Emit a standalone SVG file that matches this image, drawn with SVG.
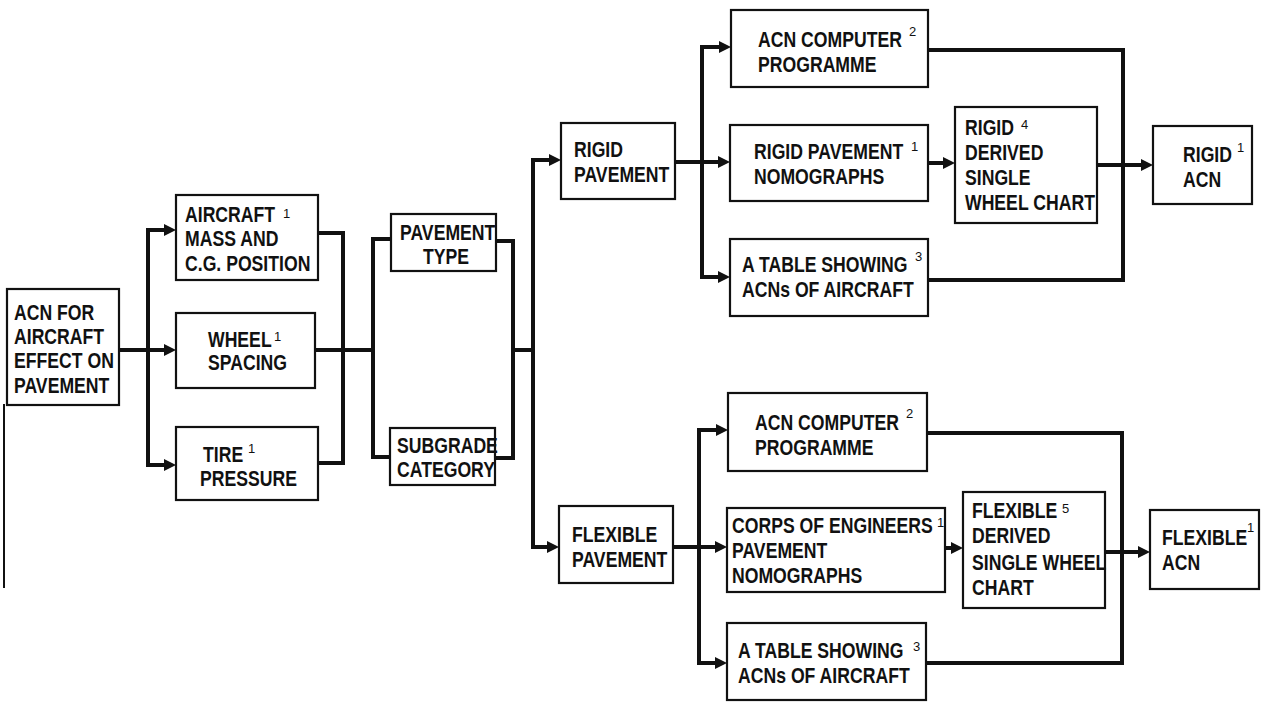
<svg xmlns="http://www.w3.org/2000/svg" width="1266" height="702" viewBox="0 0 1266 702">
<defs>
<style>
.box{fill:#fff;stroke:#111;stroke-width:2.2}
.t{font-family:"Liberation Sans",Arial,sans-serif;font-weight:bold;font-size:21.5px;fill:#111}
.s{font-family:"Liberation Sans",Arial,sans-serif;font-weight:normal;font-size:13px;fill:#111}
.c{fill:none;stroke:#111;stroke-width:4;stroke-linejoin:miter;stroke-linecap:square}
.a{fill:none;stroke:#111;stroke-width:4;marker-end:url(#ah)}
</style>
<marker id="ah" markerUnits="userSpaceOnUse" markerWidth="14" markerHeight="14" refX="2" refY="6" orient="auto">
<path d="M0,0 L12,6 L0,12 z" fill="#111"/>
</marker>
</defs>
<rect width="1266" height="702" fill="#fff"/>

<g id="connectors">
<line class="a" x1="120" y1="350" x2="166" y2="350"/>
<path class="c" d="M148,230 V465"/>
<line class="a" x1="148" y1="230" x2="166" y2="230"/>
<line class="a" x1="148" y1="465" x2="166" y2="465"/>
<path class="c" d="M318,233 H343 V463 H318"/>
<line class="c" x1="315" y1="350" x2="373" y2="350"/>
<path class="c" d="M392,239 H373 V457 H392"/>
<path class="c" d="M496,241 H513 V458 H495"/>
<line class="c" x1="513" y1="350" x2="533" y2="350"/>
<path class="c" d="M533,160 V547"/>
<line class="a" x1="533" y1="160" x2="551" y2="160"/>
<line class="a" x1="533" y1="547" x2="549" y2="547"/>
<line class="a" x1="675" y1="162" x2="720" y2="162"/>
<path class="c" d="M702,47 V277"/>
<line class="a" x1="702" y1="47" x2="721" y2="47"/>
<line class="a" x1="702" y1="277" x2="720" y2="277"/>
<path class="c" d="M928,50 H1123 V280 H928"/>
<line class="a" x1="928" y1="163" x2="945" y2="163"/>
<line class="a" x1="1097" y1="165" x2="1143" y2="165"/>
<line class="a" x1="673" y1="547" x2="717" y2="547"/>
<path class="c" d="M699,430 V663"/>
<line class="a" x1="699" y1="430" x2="718" y2="430"/>
<line class="a" x1="699" y1="663" x2="717" y2="663"/>
<path class="c" d="M927,433 H1122 V663 H926"/>
<line class="a" x1="945" y1="548" x2="953" y2="548"/>
<line class="a" x1="1105" y1="552" x2="1140" y2="552"/>
<line x1="4" y1="404" x2="4" y2="588" stroke="#111" stroke-width="2"/>
</g>

<g id="acn-for-aircraft">
<rect class="box" x="7" y="289" width="112" height="116"/>
<text class="t" transform="translate(14,320) scale(0.82,1)">ACN FOR</text>
<text class="t" transform="translate(14,344) scale(0.82,1)">AIRCRAFT</text>
<text class="t" transform="translate(14,368) scale(0.82,1)">EFFECT ON</text>
<text class="t" transform="translate(14,393) scale(0.82,1)">PAVEMENT</text>
</g>

<g id="aircraft-mass">
<rect class="box" x="176" y="195" width="142" height="85"/>
<text class="t" transform="translate(185,222) scale(0.82,1)">AIRCRAFT</text>
<text class="s" x="283" y="218">1</text>
<text class="t" transform="translate(185,246) scale(0.82,1)">MASS AND</text>
<text class="t" transform="translate(185,271) scale(0.82,1)">C.G. POSITION</text>
</g>

<g id="wheel-spacing">
<rect class="box" x="176" y="313" width="139" height="75"/>
<text class="t" transform="translate(208,347) scale(0.82,1)">WHEEL</text>
<text class="s" x="274" y="341">1</text>
<text class="t" transform="translate(208,370) scale(0.82,1)">SPACING</text>
</g>

<g id="tire-pressure">
<rect class="box" x="176" y="427" width="142" height="73"/>
<text class="t" transform="translate(203,462) scale(0.82,1)">TIRE</text>
<text class="s" x="248" y="453">1</text>
<text class="t" transform="translate(200,486) scale(0.82,1)">PRESSURE</text>
</g>

<g id="pavement-type">
<rect class="box" x="391" y="214" width="105" height="57"/>
<text class="t" transform="translate(400,240) scale(0.82,1)">PAVEMENT</text>
<text class="t" transform="translate(423,264) scale(0.82,1)">TYPE</text>
</g>

<g id="subgrade-category">
<rect class="box" x="390" y="428" width="105" height="57"/>
<text class="t" transform="translate(397,453) scale(0.82,1)">SUBGRADE</text>
<text class="t" transform="translate(397,477) scale(0.82,1)">CATEGORY</text>
</g>

<g id="rigid-pavement">
<rect class="box" x="561" y="123" width="114" height="76"/>
<text class="t" transform="translate(574,157) scale(0.82,1)">RIGID</text>
<text class="t" transform="translate(574,182) scale(0.82,1)">PAVEMENT</text>
</g>

<g id="rigid-acn-computer">
<rect class="box" x="731" y="10" width="197" height="77"/>
<text class="t" transform="translate(758,47) scale(0.82,1)">ACN COMPUTER</text>
<text class="s" x="909" y="36">2</text>
<text class="t" transform="translate(758,72) scale(0.82,1)">PROGRAMME</text>
</g>

<g id="rigid-nomographs">
<rect class="box" x="730" y="125" width="198" height="76"/>
<text class="t" transform="translate(754,159) scale(0.82,1)">RIGID PAVEMENT</text>
<text class="s" x="911" y="151">1</text>
<text class="t" transform="translate(754,184) scale(0.82,1)">NOMOGRAPHS</text>
</g>

<g id="rigid-table">
<rect class="box" x="730" y="239" width="198" height="77"/>
<text class="t" transform="translate(742,272) scale(0.82,1)">A TABLE SHOWING</text>
<text class="s" x="915" y="261">3</text>
<text class="t" transform="translate(742,297) scale(0.82,1)">ACNs OF AIRCRAFT</text>
</g>

<g id="rigid-derived-chart">
<rect class="box" x="955" y="107" width="142" height="116"/>
<text class="t" transform="translate(965,135) scale(0.82,1)">RIGID</text>
<text class="s" x="1021" y="129">4</text>
<text class="t" transform="translate(965,160) scale(0.82,1)">DERIVED</text>
<text class="t" transform="translate(965,185) scale(0.82,1)">SINGLE</text>
<text class="t" transform="translate(965,210) scale(0.82,1)">WHEEL CHART</text>
</g>

<g id="rigid-acn">
<rect class="box" x="1153" y="126" width="99" height="78"/>
<text class="t" transform="translate(1183,162) scale(0.82,1)">RIGID</text>
<text class="s" x="1237" y="152">1</text>
<text class="t" transform="translate(1183,187) scale(0.82,1)">ACN</text>
</g>

<g id="flexible-pavement">
<rect class="box" x="559" y="506" width="114" height="77"/>
<text class="t" transform="translate(572,542) scale(0.82,1)">FLEXIBLE</text>
<text class="t" transform="translate(572,567) scale(0.82,1)">PAVEMENT</text>
</g>

<g id="flex-acn-computer">
<rect class="box" x="728" y="393" width="199" height="78"/>
<text class="t" transform="translate(755,430) scale(0.82,1)">ACN COMPUTER</text>
<text class="s" x="906" y="418">2</text>
<text class="t" transform="translate(755,455) scale(0.82,1)">PROGRAMME</text>
</g>

<g id="corps-nomographs">
<rect class="box" x="727" y="508" width="218" height="84"/>
<text class="t" transform="translate(732,533) scale(0.82,1)">CORPS OF ENGINEERS</text>
<text class="s" x="937" y="527">1</text>
<text class="t" transform="translate(732,558) scale(0.82,1)">PAVEMENT</text>
<text class="t" transform="translate(732,583) scale(0.82,1)">NOMOGRAPHS</text>
</g>

<g id="flex-table">
<rect class="box" x="727" y="623" width="199" height="77"/>
<text class="t" transform="translate(738,658) scale(0.82,1)">A TABLE SHOWING</text>
<text class="s" x="913" y="651">3</text>
<text class="t" transform="translate(738,683) scale(0.82,1)">ACNs OF AIRCRAFT</text>
</g>

<g id="flex-derived-chart">
<rect class="box" x="963" y="492" width="142" height="116"/>
<text class="t" transform="translate(972,518) scale(0.82,1)">FLEXIBLE</text>
<text class="s" x="1062" y="513">5</text>
<text class="t" transform="translate(972,543) scale(0.82,1)">DERIVED</text>
<text class="t" transform="translate(972,570) scale(0.82,1)">SINGLE WHEEL</text>
<text class="t" transform="translate(972,595) scale(0.82,1)">CHART</text>
</g>

<g id="flexible-acn">
<rect class="box" x="1150" y="510" width="109" height="79"/>
<text class="t" transform="translate(1162,545) scale(0.82,1)">FLEXIBLE</text>
<text class="s" x="1247" y="532">1</text>
<text class="t" transform="translate(1162,570) scale(0.82,1)">ACN</text>
</g>
</svg>
